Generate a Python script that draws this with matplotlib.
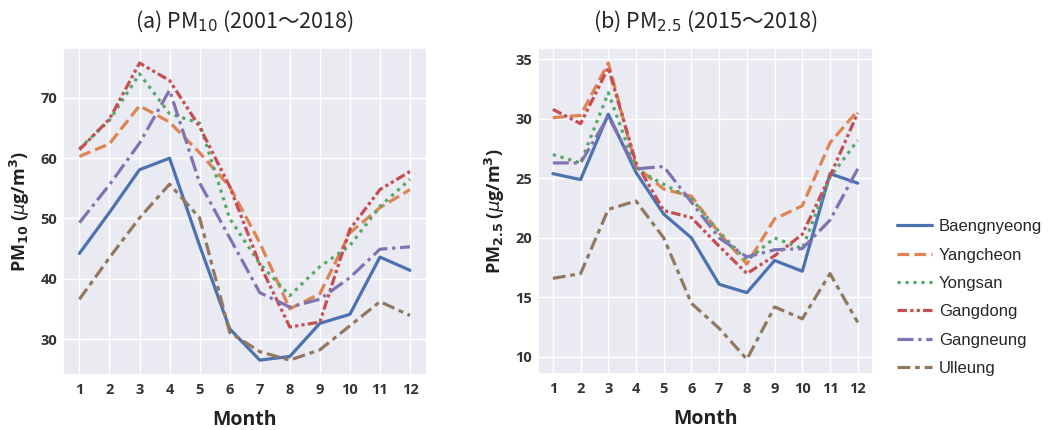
import numpy as np
import matplotlib
matplotlib.use('Agg')
import matplotlib.pyplot as plt
import seaborn as sns

months = list(range(1, 13))
stations = ['Baengnyeong', 'Yangcheon', 'Yongsan', 'Gangdong', 'Gangneung', 'Ulleung']

# PM10 monthly means (2001~2018)
pm10_baengnyeong = [44.2, 51.0, 58.1, 60.0, 45.5, 31.7, 26.5, 27.1, 32.6, 34.1, 43.6, 41.4]
pm10_yangcheon = [60.3, 62.4, 68.7, 66.0, 60.9, 55.3, 46.0, 35.0, 37.5, 47.6, 51.8, 54.8]
pm10_yongsan = [61.6, 66.3, 74.0, 67.4, 65.8, 50.0, 42.5, 37.2, 42.0, 45.5, 52.0, 56.5]
pm10_gangdong = [61.4, 66.5, 75.8, 72.9, 65.2, 55.3, 42.4, 32.0, 32.8, 48.2, 54.8, 57.8]
pm10_gangneung = [49.3, 55.6, 62.5, 71.3, 55.9, 46.8, 37.7, 35.3, 36.6, 40.2, 44.9, 45.3]
pm10_ulleung = [36.6, 43.5, 50.1, 55.7, 50.1, 31.1, 27.9, 26.5, 28.2, 32.2, 36.2, 33.9]

# PM2.5 monthly means (2015~2018)
pm25_baengnyeong = [25.4, 24.9, 30.4, 25.5, 22.0, 20.0, 16.1, 15.4, 18.1, 17.2, 25.4, 24.6]
pm25_yangcheon = [30.1, 30.3, 34.7, 26.0, 24.1, 23.5, 20.4, 17.8, 21.6, 22.7, 28.0, 30.7]
pm25_yongsan = [27.0, 26.3, 32.2, 25.8, 24.5, 23.3, 20.5, 18.1, 20.0, 19.1, 25.1, 28.2]
pm25_gangdong = [30.8, 29.6, 34.3, 26.3, 22.3, 21.7, 19.3, 17.0, 18.5, 20.3, 25.2, 30.5]
pm25_gangneung = [26.3, 26.3, 30.2, 25.8, 26.0, 23.0, 20.0, 18.4, 19.0, 19.1, 21.5, 25.8]
pm25_ulleung = [16.6, 17.0, 22.4, 23.1, 20.0, 14.5, 12.4, 9.8, 14.2, 13.2, 17.0, 12.9]

pm10 = [pm10_baengnyeong, pm10_yangcheon, pm10_yongsan, pm10_gangdong, pm10_gangneung, pm10_ulleung]
pm25 = [pm25_baengnyeong, pm25_yangcheon, pm25_yongsan, pm25_gangdong, pm25_gangneung, pm25_ulleung]

sns.set_theme(style='darkgrid')
plt.rcParams['font.family'] = ['DejaVu Sans']

colors = sns.color_palette('deep')[:6]
styles = ['-', (0, (3.7, 1.6)), (0, (1, 1.5)), (0, (3, 1, 1, 1, 1, 1)),
          (0, (5, 1.5, 1, 1.5)), (0, (4, 1.5, 1.5, 1.5))]

fig = plt.figure(figsize=(10.48, 4.3), dpi=100)
ax1 = fig.add_axes([0.060, 0.128, 0.347, 0.760])
ax2 = fig.add_axes([0.513, 0.130, 0.320, 0.758])

for ax, data in [(ax1, pm10), (ax2, pm25)]:
    for i in range(6):
        ax.plot(months, data[i], color=colors[i], linestyle=styles[i], lw=2.3, label=stations[i])
    ax.set_xticks(months)
    ax.tick_params(axis='x', length=0, pad=6)
    ax.tick_params(axis='y', length=0, pad=4)
    ax.set_xlabel('Month', family='Open Sans', fontweight='bold', fontsize=14,
                  color='#222222', labelpad=9)

ax1.set_yticks([30, 40, 50, 60, 70])
ax2.set_yticks([10, 15, 20, 25, 30, 35])
for ax in (ax1, ax2):
    for lab in ax.get_xticklabels() + ax.get_yticklabels():
        lab.set_family('Open Sans')
        lab.set_fontweight('bold')
        lab.set_fontsize(10.5)
        lab.set_color('#333333')

ax1.set_ylabel(r'PM$_\mathbf{10}$ ($\mu$g/m$^\mathbf{3}$)', family='Open Sans', fontweight='bold',
               fontsize=13, color='#222222', labelpad=6)
ax2.set_ylabel(r'PM$_\mathbf{2.5}$ ($\mu$g/m$^\mathbf{3}$)', family='Open Sans', fontweight='bold',
               fontsize=13, color='#222222', labelpad=6)

ax1.set_title(r'(a) PM$_{10}$ (2001～2018)', family='Noto Sans CJK JP', fontsize=15.5, pad=15)
ax2.set_title(r'(b) PM$_{2.5}$ (2015～2018)', family='Noto Sans CJK JP', fontsize=15.5, pad=15)

handles, labels = ax2.get_legend_handles_labels()
fig.legend(handles, labels, loc='upper left', bbox_to_anchor=(0.842, 0.525), frameon=False,
           prop={'family': 'Liberation Sans', 'size': 12}, handlelength=2.1, handletextpad=0.4,
           labelspacing=0.8)

fig.savefig('out.png', dpi=100)
